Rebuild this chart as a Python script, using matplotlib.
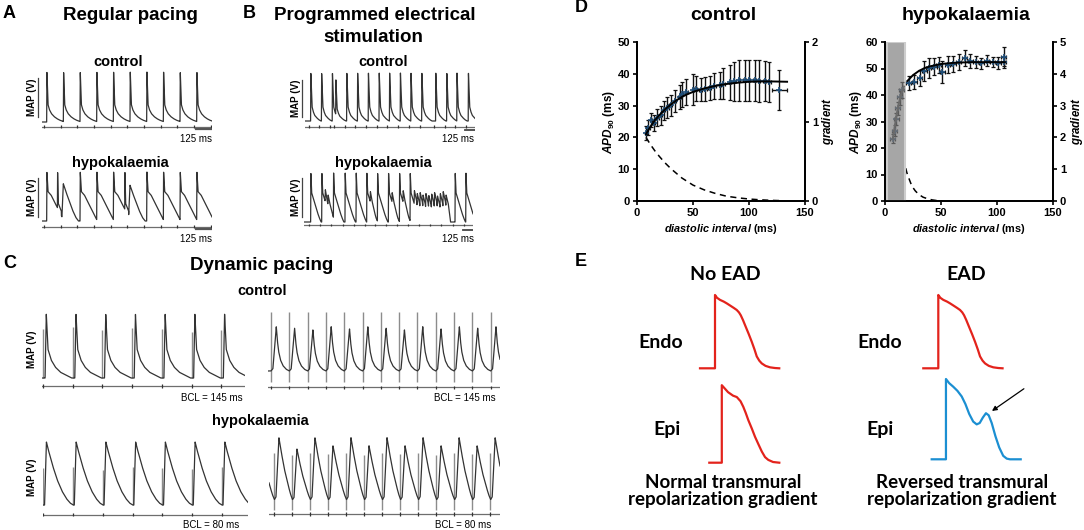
import numpy as np
import matplotlib
matplotlib.use('Agg')
import matplotlib.pyplot as plt
from matplotlib.lines import Line2D

plt.rcParams['font.family'] = ['Liberation Sans', 'DejaVu Sans']
plt.rcParams['mathtext.fontset'] = 'custom'
plt.rcParams['mathtext.rm'] = 'Liberation Sans:bold'
plt.rcParams['mathtext.it'] = 'Liberation Sans:italic:bold'
plt.rcParams['mathtext.bf'] = 'Liberation Sans:bold'

# ---------------------------------------------------------------- data
# AP templates (ms after onset, normalised MAP level)
tmpl_A_ctrl_t = [0, 2, 10, 20, 35, 55, 75, 95, 115, 135]
tmpl_A_ctrl_v = [0, 1, 0.35, 0.25, 0.17, 0.11, 0.07, 0.04, 0.02, 0]
tmpl_A_hypo_t = [0, 2, 10, 33, 58, 83, 108, 125, 135]
tmpl_A_hypo_v = [0, 1, 0.6, 0.53, 0.39, 0.26, 0.12, 0.03, 0]
tmpl_A_pre_t = [0, 2, 7, 30]
tmpl_A_pre_v = [0, 1, 0.36, 0.2]
tmpl_A_ead_t = [0, 12, 30, 55, 80, 105, 125]
tmpl_A_ead_v = [0, 1, 0.8, 0.55, 0.3, 0.1, 0]

# Panel A (regular pacing)
stim_A = [15, 140, 265, 390, 515, 640, 765, 890, 1015, 1140, 1265]
A_ctrl_onset = [35, 160, 285, 410, 535, 660, 785, 910, 1035, 1160]
A_ctrl_amp = [1, 1, 1, 1, 1, 1, 1, 1, 1, 1]
A_hypo_onset = [35, 115, 148, 285, 410, 535, 620, 648, 785, 910, 1035, 1160]
A_hypo_amp = [1, 1, 0.76, 1, 1, 1, 1, 0.73, 1, 1, 1, 1]
A_hypo_kind = ['ap', 'pre', 'ead', 'ap', 'ap', 'ap', 'pre', 'ead', 'ap', 'ap', 'ap', 'ap']

# Panel B (programmed electrical stimulation)
tmpl_B_ctrl_t = [0, 3, 18, 32, 50, 75, 100, 128]
tmpl_B_ctrl_v = [0, 1, 0.3, 0.2, 0.12, 0.07, 0.03, 0]
tmpl_B_hypo_t = [0, 3, 12, 30, 55, 80, 105, 130]
tmpl_B_hypo_v = [0, 1, 0.6, 0.5, 0.36, 0.22, 0.1, 0]
tmpl_B_ead_t = [0, 12, 30, 55, 80, 105]
tmpl_B_ead_v = [0, 1, 0.72, 0.42, 0.15, 0]
tmpl_B_vt_t = [0, 10, 36, 65]
tmpl_B_vt_v = [0, 1, 0.7, 0]
stim_B_ctrl = [45, 180, 315, 358, 495, 630, 765, 900, 1030, 1165, 1297, 1433, 1607, 1745, 1872, 2015]
B_ctrl_onset = [70, 205, 340, 383, 520, 655, 790, 925, 1055, 1190, 1322, 1458, 1632, 1770, 1897, 2040]
B_ctrl_amp = [1, 1, 1, 0.86, 1, 1, 1, 1, 1, 1, 1, 1, 1, 1, 1, 1]
stim_B_hypo = [60, 196, 340, 488, 625, 760, 893, 1030, 1166, 1300, 1440, 1575, 1710, 1860, 1995]
B_hypo_onset = [83, 221, 367, 512, 650, 783, 917, 1054, 1192, 1325, 1887, 2021]
B_hypo_amp = [1, 1, 1, 1, 1, 1, 1, 1, 1, 1, 1, 1]
B_ead_onset = [255, 290, 818, 1090, 1228]
B_ead_amp = [0.66, 0.55, 0.62, 0.6, 0.64]
B_vt_onset = [1370, 1406, 1442, 1478, 1514, 1550, 1586, 1622, 1658, 1694, 1730, 1766]
B_vt_amp = [0.64, 0.58, 0.6, 0.55, 0.58, 0.54, 0.57, 0.6, 0.53, 0.58, 0.62, 0.55]

# Panel C (dynamic pacing)
tmpl_C_ctrl_l_t = [0, 10, 16, 24, 40, 60, 85, 115, 140]
tmpl_C_ctrl_l_v = [0, 0, 1, 0.45, 0.28, 0.17, 0.09, 0.04, 0]
tmpl_C_ctrl_r_t = [0, 15, 42, 50, 60, 75, 95, 120, 145]
tmpl_C_ctrl_r_v = [0, 0.05, 1.0, 0.7, 0.45, 0.25, 0.12, 0.04, 0]
tmpl_C_hypo_l_t = [0, 3, 8, 12, 25, 37, 50, 62, 72, 80]
tmpl_C_hypo_l_v = [0, 0, 1.0, 0.9, 0.62, 0.4, 0.22, 0.1, 0.03, 0]
tmpl_C_hypo_r_t = [0, 8, 21, 30, 45, 60, 72, 82]
tmpl_C_hypo_r_v = [0, 0.05, 1.0, 0.8, 0.5, 0.27, 0.1, 0]
stim_C_ctrl_l = [5, 150, 295, 440, 585, 730, 875]
C_ctrl_l_amp = [1, 1, 1, 1, 1, 1, 1]
C_ctrl_l_art = [0.77, 0.8, 0.75, 0.78, 0.77, 0.72, 0.75]
stim_C_ctrl_r = [26, 171, 316, 461, 606, 751, 896, 1041, 1186, 1331, 1476, 1621, 1766]
C_ctrl_r_amp = [1.0, 0.97, 0.93, 1.0, 0.95, 1.0, 0.97, 0.93, 1.0, 0.95, 1.0, 0.97, 1.0]
stim_C_hypo_l = [2, 82, 162, 242, 322, 402, 482]
C_hypo_l_amp = [1, 1, 1, 1, 1, 1, 1]
C_hypo_l_art = [0.58, 0.6, 0.56, 0.6, 0.58, 0.57, 0.6]
stim_C_hypo_r = [-57, 23, 103, 183, 263, 343, 423, 503, 583, 663, 743, 823, 903, 983]
C_hypo_r_amp = [0.87, 1.0, 0.82, 1.0, 0.87, 1.0, 0.87, 1.0, 0.87, 1.0, 0.87, 1.0, 0.87, 1.0]
C_hypo_r_art = [0.75, 0.75, 0.72, 0.76, 0.74, 0.75, 0.73, 0.76, 0.74, 0.75, 0.73, 0.76, 0.74, 0.75]

# Panel D (restitution)
ctrl_di = [8, 10, 12.5, 15, 18, 21.5, 24, 27, 30, 34, 38, 40, 44, 50, 52.5, 57, 61, 65, 69, 74,
           77, 83, 87, 91, 96, 100, 105, 109, 114, 118, 127]
ctrl_apd = [21.4, 23.1, 25.6, 24.5, 26.2, 26.9, 28.5, 29.4, 30.1, 31.4, 32.7, 33.5, 34.3, 35.0, 35.3,
            35.0, 35.3, 35.6, 36.1, 36.4, 36.9, 37.4, 37.6, 37.9, 37.9, 37.9, 37.9, 37.7, 37.7, 37.4, 35.0]
ctrl_err = [2.2, 2.3, 2.2, 2.5, 2.6, 3.0, 3.0, 3.2, 3.3, 3.5, 3.8, 4.0, 4.2, 4.8, 4.0, 3.7, 3.7, 3.8,
            4.0, 4.3, 4.8, 5.5, 6.0, 6.3, 6.3, 6.3, 6.3, 6.5, 6.3, 6.2, 6.3]
ctrl_xerr = [1.2, 1.2, 1.2, 1.2, 1.2, 1.2, 1.2, 1.2, 1.2, 1.2, 1.2, 1.2, 1.2, 1.2, 1.2, 1.2, 1.2, 1.2,
             1.2, 1.2, 1.2, 1.2, 1.2, 1.2, 1.2, 1.2, 1.2, 1.2, 1.2, 1.2, 6.5]
ctrl_fit_di = [8, 12, 16, 20, 25, 30, 35, 40, 45, 50, 60, 70, 80, 90, 100, 110, 120, 134]
ctrl_fit_apd = [21.0, 23.4, 25.4, 27.0, 28.8, 30.3, 31.6, 32.7, 33.6, 34.3, 35.4, 36.2, 36.8, 37.2,
                37.5, 37.6, 37.6, 37.5]
ctrl_grad_di = [8, 12, 16, 20, 25, 30, 35, 40, 50, 60, 70, 80, 90, 100, 110, 120, 130]
ctrl_grad = [0.80, 0.71, 0.63, 0.56, 0.48, 0.41, 0.35, 0.29, 0.20, 0.14, 0.095, 0.06, 0.04, 0.025,
             0.015, 0.008, 0.004]

hypo_di = [7, 8.5, 10, 11.5, 13, 15, 21, 26, 31, 35, 39, 44, 48, 51, 56, 61, 66, 71, 76, 81, 86, 91,
           96, 101, 106, 106]
hypo_apd = [23.5, 26.5, 31.0, 35.0, 39.3, 42.0, 44.5, 45.0, 46.5, 49.2, 50.2, 50.6, 51.2, 48.8, 51.5,
            51.8, 52.6, 53.8, 52.8, 52.4, 52.0, 53.0, 52.5, 52.2, 54.5, 52.3]
hypo_err = [1.8, 2.0, 2.2, 2.5, 3.0, 3.0, 2.5, 2.6, 3.0, 3.8, 3.6, 3.2, 3.0, 4.2, 3.2, 3.0, 3.0, 3.0,
            2.5, 2.2, 2.0, 2.2, 2.0, 2.2, 3.6, 2.2]
hypo_xerr = [2.2, 2.2, 2.2, 2.2, 2.2, 2.2, 2.2, 2.2, 2.2, 2.2, 2.2, 2.2, 2.2, 2.2, 2.2, 2.2, 2.2, 2.2,
             2.2, 2.2, 2.2, 2.2, 2.2, 2.2, 2.2, 2.2]
hypo_fit_di = [7, 9, 11, 13, 15, 17, 20, 25, 30, 35, 40, 50, 60, 70, 80, 90, 100, 107]
hypo_fit_apd = [23.5, 29.0, 34.0, 38.0, 41.0, 43.2, 45.3, 47.5, 49.0, 50.1, 50.8, 51.7, 52.1, 52.3,
                52.4, 52.4, 52.4, 52.4]
hypo_grad_di = [10.5, 13, 15, 17.5, 19.6, 22, 24, 27, 30, 34, 38, 42, 47, 52]
hypo_grad = [2.0, 1.72, 1.5, 1.17, 0.88, 0.65, 0.47, 0.32, 0.21, 0.12, 0.07, 0.035, 0.01, 0.0]
hypo_shade = [2, 18]

# Panel E (schematic APs: ms, mV)
endo_t = [0, 60, 60, 68, 80, 95, 107, 120, 135, 147, 156, 163, 172, 180, 195, 207, 218, 227, 237,
          247, 262, 280, 300, 317]
endo_v = [-85, -85, 20, 16, 13, 10.5, 8, 5, 1.5, -1.5, -5, -9, -16, -23, -36, -47, -58, -68, -74,
          -78, -81.5, -83.6, -84.6, -85]
epi_t = [0, 50, 50, 60, 75, 95, 110, 125, 136, 146, 156, 170, 183, 197, 210, 223, 236, 255, 280]
epi_v = [-85, -85, 26, 22, 16, 11, 9, 3, -5, -14, -24, -36, -48, -59, -69, -77, -81, -84, -85]
epi_ead_t = [0, 57, 57, 70, 86, 103, 120, 135, 150, 166, 180, 192, 205, 217, 228, 240, 255, 270, 286,
             300, 313, 356]
epi_ead_v = [-85, -85, 30, 24, 19, 13, 5, -6, -20, -31, -35, -33, -25, -19, -22, -33, -52, -68, -80,
             -84, -85, -85]

# ---------------------------------------------------------------- figure
W, H = 1084, 530
fig = plt.figure(figsize=(W / 100, H / 100), dpi=100)

TRACE = '#333333'
ART = '#8c8c8c'
STIM = '#6e6e6e'


def box(x0, y0, x1, y1):
    return [x0 / W, 1 - y1 / H, (x1 - x0) / W, (y1 - y0) / H]


def ftext(x, y, s, **kw):
    kw.setdefault('ha', 'center')
    kw.setdefault('va', 'center')
    fig.text(x / W, 1 - y / H, s, **kw)


def fline(x0, y0, x1, y1, **kw):
    fig.add_artist(Line2D([x0 / W, x1 / W], [1 - y0 / H, 1 - y1 / H], transform=fig.transFigure, **kw))


def trace_axes(x0, x1, t0, t1, peak_px, base_px, y_top, y_bot):
    ax = fig.add_axes(box(x0, y_top, x1, y_bot))
    unit = base_px - peak_px
    ax.set_xlim(t0, t1)
    ax.set_ylim(-(y_bot - base_px) / unit, (base_px - y_top) / unit)
    ax.axis('off')
    return ax, unit


def waveform(t, onsets, amps, kinds, templates):
    v = np.zeros_like(t)
    for on, a, k in zip(onsets, amps, kinds):
        tt, tv = templates[k]
        v = np.maximum(v, a * np.interp(t - on, tt, tv, left=0, right=0))
    return v


def draw_trace(ax, t0, t1, onsets, amps, kinds, templates, lw=0.9, color=TRACE):
    t = np.linspace(t0, t1, 6000)
    v = waveform(t, onsets, amps, kinds, templates)
    ax.plot(t, v, color=color, lw=lw, solid_joinstyle='round')


def stim_line(ax, t0, t1, y, stims, tick=0.03, color=STIM):
    ax.plot([t0, t1], [y, y], color=color, lw=0.9)
    ax.vlines(stims, y - tick, y + tick, color='#333333', lw=0.9)


# ================================================================ Panel A
ftext(3, 13, 'A', ha='left', fontsize=13, fontweight='bold')
ftext(130, 15, 'Regular pacing', fontsize=13.5, fontweight='bold')
ftext(118, 62, 'control', fontsize=10.5, fontweight='bold')
ftext(120, 163, 'hypokalaemia', fontsize=10.5, fontweight='bold')

tA = {'ap': (tmpl_A_ctrl_t, tmpl_A_ctrl_v)}
axA1, u = trace_axes(42, 212, 0, 1275, 72, 122, 66, 134)
draw_trace(axA1, 0, 1275, A_ctrl_onset, A_ctrl_amp, ['ap'] * len(A_ctrl_onset), tA)
stim_line(axA1, 0, 1275, -5 / u, stim_A)
axA1.plot([1275 - 120, 1275], [-7.5 / u, -7.5 / u], color='#555555', lw=1.6)

tAh = {'ap': (tmpl_A_hypo_t, tmpl_A_hypo_v), 'pre': (tmpl_A_pre_t, tmpl_A_pre_v),
       'ead': (tmpl_A_ead_t, tmpl_A_ead_v)}
axA2, u = trace_axes(42, 212, 0, 1275, 172, 221, 166, 234)
draw_trace(axA2, 0, 1275, A_hypo_onset, A_hypo_amp, A_hypo_kind, tAh)
stim_line(axA2, 0, 1275, -5.7 / u, stim_A)
axA2.plot([1275 - 120, 1275], [-8.3 / u, -8.3 / u], color='#555555', lw=1.6)

for yc in (97, 197):
    ftext(32, yc, 'MAP (V)', fontsize=7, fontweight='bold', rotation=90)
fline(38, 78, 38, 117, color='#444444', lw=0.9)
fline(38, 178, 38, 217, color='#444444', lw=0.9)
ftext(196, 138.5, '125 ms', fontsize=7)
ftext(196, 238.5, '125 ms', fontsize=7)

# ================================================================ Panel B
ftext(243, 13, 'B', ha='left', fontsize=13, fontweight='bold')
ftext(375, 15, 'Programmed electrical', fontsize=13.5, fontweight='bold')
ftext(373, 37, 'stimulation', fontsize=13.5, fontweight='bold')
ftext(383, 62, 'control', fontsize=10.5, fontweight='bold')
ftext(383, 163, 'hypokalaemia', fontsize=10.5, fontweight='bold')

tB = {'ap': (tmpl_B_ctrl_t, tmpl_B_ctrl_v)}
axB1, u = trace_axes(305, 475, 0, 2125, 73, 121, 66, 134)
draw_trace(axB1, 0, 2125, B_ctrl_onset, B_ctrl_amp, ['ap'] * len(B_ctrl_onset), tB)
stim_line(axB1, 0, 2125, -5.7 / u, stim_B_ctrl)
axB1.plot([2125 - 125, 2125], [-9 / u, -9 / u], color='#444444', lw=1.3)

tBh = {'ap': (tmpl_B_hypo_t, tmpl_B_hypo_v), 'ead': (tmpl_B_ead_t, tmpl_B_ead_v),
       'vt': (tmpl_B_vt_t, tmpl_B_vt_v)}
onB = B_hypo_onset + B_ead_onset + B_vt_onset
ampB = B_hypo_amp + B_ead_amp + B_vt_amp
kindB = ['ap'] * len(B_hypo_onset) + ['ead'] * len(B_ead_onset) + ['vt'] * len(B_vt_onset)
axB2, u = trace_axes(304, 473, 0, 2112, 173, 222, 166, 234)
draw_trace(axB2, 0, 2112, onB, ampB, kindB, tBh)
stim_line(axB2, 0, 2112, -3 / u, stim_B_hypo)
axB2.plot([2112 - 125, 2112], [-8 / u, -8 / u], color='#444444', lw=1.3)

ftext(296, 98, 'MAP (V)', fontsize=7, fontweight='bold', rotation=90)
ftext(296, 197, 'MAP (V)', fontsize=7, fontweight='bold', rotation=90)
fline(302, 80, 302, 117, color='#444444', lw=0.9)
fline(302, 178, 302, 217, color='#444444', lw=0.9)
ftext(458, 139, '125 ms', fontsize=7)
ftext(458, 239, '125 ms', fontsize=7)

# ================================================================ Panel C
ftext(3, 263, 'C', ha='left', fontsize=13, fontweight='bold')
ftext(262, 265, 'Dynamic pacing', fontsize=13.5, fontweight='bold')
ftext(262, 291, 'control', fontsize=10.5, fontweight='bold')
ftext(260, 420.5, 'hypokalaemia', fontsize=10.5, fontweight='bold')

# left control
axC1, u = trace_axes(42, 245, 0, 203 * 4.88, 314, 378, 305, 392)
axC1.vlines(stim_C_ctrl_l, 0, C_ctrl_l_art, color=ART, lw=1.0)
draw_trace(axC1, 0, 203 * 4.88, stim_C_ctrl_l, C_ctrl_l_amp, ['ap'] * 7,
           {'ap': (tmpl_C_ctrl_l_t, tmpl_C_ctrl_l_v)})
stim_line(axC1, 0, 203 * 4.88, -8 / u, stim_C_ctrl_l, tick=0.03)

# right control
axC2, u = trace_axes(267.7, 500, 0, 232.3 * 7.92, 326.7, 371, 305, 392)
axC2.vlines(stim_C_ctrl_r, -0.24, 1.34, color=ART, lw=1.0)
draw_trace(axC2, 0, 232.3 * 7.92, stim_C_ctrl_r, C_ctrl_r_amp, ['ap'] * 13,
           {'ap': (tmpl_C_ctrl_r_t, tmpl_C_ctrl_r_v)})
stim_line(axC2, 0, 232.3 * 7.92, -16.3 / u, stim_C_ctrl_r, tick=0.04)

# left hypokalaemia
axC3, u = trace_axes(42.7, 248, 0, 205.3 * 2.69, 442, 505, 432, 520)
axC3.vlines(stim_C_hypo_l, 0, C_hypo_l_art, color=ART, lw=1.0)
draw_trace(axC3, 0, 205.3 * 2.69, stim_C_hypo_l, C_hypo_l_amp, ['ap'] * 7,
           {'ap': (tmpl_C_hypo_l_t, tmpl_C_hypo_l_v)})
stim_line(axC3, 0, 205.3 * 2.69, -9.5 / u, stim_C_hypo_l, tick=0.03)

# right hypokalaemia
axC4, u = trace_axes(269, 500, 0, 231 * 4.44, 437.7, 500, 432, 520)
axC4.vlines(stim_C_hypo_r[1:], -0.16, C_hypo_r_art[1:], color=ART, lw=1.0)
draw_trace(axC4, 0, 231 * 4.44, stim_C_hypo_r, C_hypo_r_amp, ['ap'] * 14,
           {'ap': (tmpl_C_hypo_r_t, tmpl_C_hypo_r_v)})
stim_line(axC4, 0, 231 * 4.44, -14.3 / u, stim_C_hypo_r[1:], tick=0.03)

ftext(32, 349, 'MAP (V)', fontsize=7, fontweight='bold', rotation=90)
ftext(32, 477, 'MAP (V)', fontsize=7, fontweight='bold', rotation=90)
ftext(212, 398, 'BCL = 145 ms', fontsize=7)
ftext(465, 398, 'BCL = 145 ms', fontsize=7)
ftext(211, 524.5, 'BCL = 80 ms', fontsize=7)
ftext(463.5, 524.5, 'BCL = 80 ms', fontsize=7)

# ================================================================ Panel D
ftext(575, 8, 'D', ha='left', fontsize=13, fontweight='bold')
ftext(723, 15, 'control', fontsize=14, fontweight='bold')
ftext(966, 15, 'hypokalaemia', fontsize=14, fontweight='bold')

NAVY = '#1f4e79'


def style_axes(ax, ax2):
    for a in (ax, ax2):
        a.spines['top'].set_visible(False)
        for s in ('left', 'right', 'bottom'):
            a.spines[s].set_linewidth(1.3)
            a.spines[s].set_color('black')
        a.tick_params(direction='out', length=3, width=1.2, labelsize=8, pad=2)
        for lbl in a.get_xticklabels() + a.get_yticklabels():
            lbl.set_fontweight('bold')


def restitution(rect, ymax, y2max, di, apd, err, xerr, fdi, fapd, gdi, g, shade=None,
                ylab_x=-0.167, y2lab_x=1.137):
    ax = fig.add_axes(box(*rect))
    ax.set_xlim(0, 150)
    ax.set_ylim(0, ymax)
    ax.set_xticks([0, 50, 100, 150])
    ax.set_yticks(np.arange(0, ymax + 1, 10))
    ax2 = ax.twinx()
    ax2.set_ylim(0, y2max)
    ax2.set_yticks(np.arange(0, y2max + 1, 1))
    di = np.asarray(di, float)
    apd = np.asarray(apd, float)
    err = np.asarray(err, float)
    xerr = np.asarray(xerr, float)
    if shade is not None:
        ax.axvspan(shade[0], shade[1], facecolor='#a6a6a6', edgecolor='#cdcdcd', lw=1.5, zorder=0)
        inside = di < shade[1]
    else:
        inside = np.zeros(len(di), bool)
    out = ~inside
    ax.errorbar(di[out], apd[out], yerr=err[out], xerr=xerr[out], fmt='none', ecolor='#111111',
                elinewidth=1.0, capsize=1.2, capthick=0.9, zorder=3)
    ax.plot(di[out], apd[out], '+', color=NAVY, ms=4.5, mew=1.2, zorder=4)
    if inside.any():
        ax.errorbar(di[inside], apd[inside], yerr=err[inside], xerr=xerr[inside], fmt='none',
                    ecolor='#5a5a5a', elinewidth=1.0, capsize=1.2, capthick=0.9, zorder=3)
        ax.plot(di[inside], apd[inside], '+', color='#666f7a', ms=4.5, mew=1.2, zorder=4)
    fdi = np.asarray(fdi, float)
    fapd = np.asarray(fapd, float)
    if shade is not None:
        m_in = fdi <= shade[1]
        ax.plot(fdi[m_in], fapd[m_in], color='#6a6a6a', lw=1.4, zorder=5)
        k = np.argmax(fdi >= shade[1])
        ax.plot(fdi[k:], fapd[k:], color='black', lw=1.4, zorder=5)
    else:
        ax.plot(fdi, fapd, color='black', lw=1.4, zorder=5)
    ax2.plot(gdi, g, color='black', lw=1.1, ls=(0, (4, 3)), zorder=5)
    ax.set_zorder(ax2.get_zorder() + 1)
    ax.patch.set_visible(False)
    style_axes(ax, ax2)
    ax.set_xlabel(r'$diastolic\ interval$ (ms)', fontsize=7.8, fontweight='bold', labelpad=3)
    ax.set_ylabel(r'$APD_{90}$ (ms)', fontsize=8.5, fontweight='bold')
    ax.yaxis.set_label_coords(ylab_x, 0.5)
    ax.yaxis.label.set_verticalalignment('center')
    ax2.set_ylabel(r'$gradient$', fontsize=8.3)
    ax2.yaxis.set_label_coords(y2lab_x, 0.5)
    ax2.yaxis.label.set_verticalalignment('center')
    return ax, ax2


restitution((637, 42, 805, 201), 50, 2, ctrl_di, ctrl_apd, ctrl_err, ctrl_xerr,
            ctrl_fit_di, ctrl_fit_apd, ctrl_grad_di, ctrl_grad, ylab_x=-0.167, y2lab_x=1.137)
restitution((885, 42, 1053, 201), 60, 5, hypo_di, hypo_apd, hypo_err, hypo_xerr,
            hypo_fit_di, hypo_fit_apd, hypo_grad_di, hypo_grad, shade=hypo_shade,
            ylab_x=-0.172, y2lab_x=1.143)

# ================================================================ Panel E
ftext(575, 262, 'E', ha='left', fontsize=13, fontweight='bold')
EF = dict(family=['Lato', 'DejaVu Sans'], fontweight='bold')
ftext(725, 274, 'No EAD', fontsize=14, **EF)
ftext(966, 274, 'EAD', fontsize=14, **EF)
ftext(661, 343, 'Endo', fontsize=14, **EF)
ftext(667, 430, 'Epi', fontsize=14, **EF)
ftext(880, 343, 'Endo', fontsize=14, **EF)
ftext(880, 430, 'Epi', fontsize=14, **EF)
ftext(723, 482, 'Normal transmural', fontsize=13.5, **EF)
ftext(723, 500, 'repolarization gradient', fontsize=13.5, **EF)
ftext(962, 482, 'Reversed transmural', fontsize=13.5, **EF)
ftext(962, 500, 'repolarization gradient', fontsize=13.5, **EF)

MS_PX = 4.0
MV_PX = 1.432
RED = '#e3231c'
BLUE = '#1b8fd2'


def ap_axes(org_px, base_px, x0, x1, y0, y1):
    ax = fig.add_axes(box(x0, y0, x1, y1))
    ax.set_xlim((x0 - org_px) * MS_PX, (x1 - org_px) * MS_PX)
    ax.set_ylim(-85 - (y1 - base_px) * MV_PX, -85 + (base_px - y0) * MV_PX)
    ax.axis('off')
    return ax


axE1 = ap_axes(700, 368.3, 695, 785, 288, 374)
axE1.plot(endo_t, endo_v, color=RED, lw=1.6, solid_joinstyle='round')
axE2 = ap_axes(709.3, 462.7, 704, 785, 378, 468)
axE2.plot(epi_t, epi_v, color=RED, lw=1.6, solid_joinstyle='round')
axE3 = ap_axes(923.3, 368.3, 918, 1008, 288, 374)
axE3.plot(endo_t, endo_v, color=RED, lw=1.6, solid_joinstyle='round')
axE4 = ap_axes(931.7, 459.3, 926, 1030, 372, 466)
axE4.plot(epi_ead_t, epi_ead_v, color=BLUE, lw=1.6, solid_joinstyle='round')
axE4.annotate('', xy=(241, -15.8), xytext=(23, 16), textcoords='offset points',
              arrowprops=dict(arrowstyle='-|>', color='black', lw=0.9, mutation_scale=7,
                              shrinkA=0, shrinkB=0), annotation_clip=False)

fig.savefig('out.png', dpi=100)
